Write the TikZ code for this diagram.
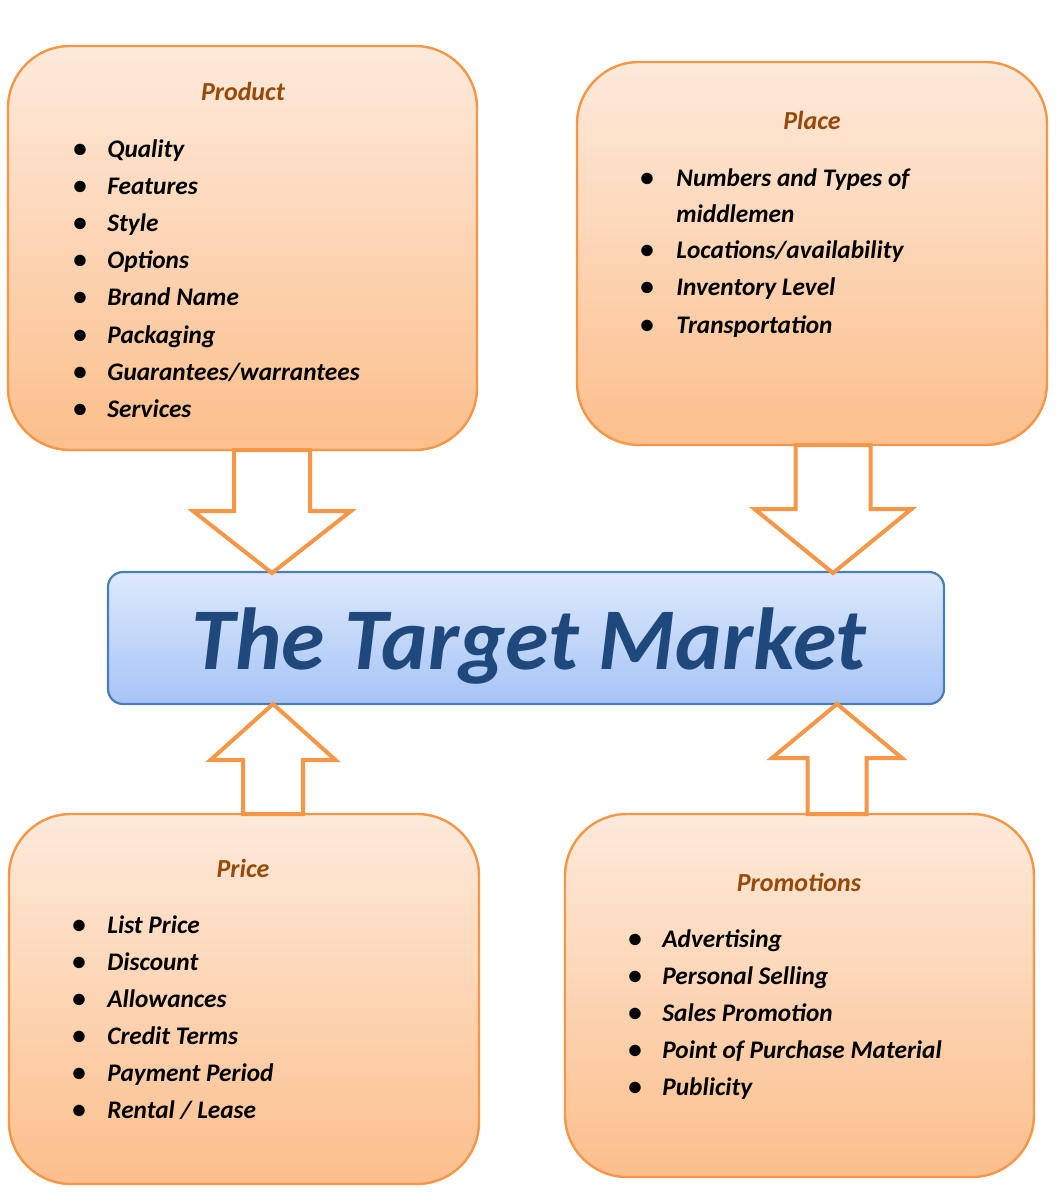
\documentclass[tikz,border=0pt]{standalone}
\usepackage{fontspec}
\setmainfont{Carlito}
\definecolor{orng}{HTML}{F79646}
\definecolor{boxtop}{HTML}{FDEADB}
\definecolor{boxbot}{HTML}{FCBF8C}
\definecolor{ttl}{HTML}{984807}
\definecolor{bltop}{HTML}{DDE9FC}
\definecolor{blbot}{HTML}{A6C4F7}
\definecolor{blline}{HTML}{4A7EBB}
\definecolor{tmtext}{HTML}{1F497D}
\tikzset{
  mixbox/.style={draw=orng, line width=1.2pt, rounded corners=31pt, top color=boxtop, bottom color=boxbot, inner sep=0pt},
  tmbox/.style={draw=blline, line width=1.1pt, rounded corners=7.5pt, top color=bltop, bottom color=blbot, inner sep=0pt},
  blk/.style={draw=orng, fill=white, line width=2pt, line join=miter},
  ttlfont/.style={font=\fontsize{13}{15}\selectfont\bfseries\itshape, text=ttl, anchor=base, inner sep=0pt},
  item/.style={font=\fontsize{12.65}{15}\selectfont\bfseries\itshape, text=black, anchor=base west, inner sep=0pt},
  bul/.style={font=\fontsize{13.5}{15}\selectfont\bfseries, text=black, anchor=base, inner sep=0pt}
}
\begin{document}
\begin{tikzpicture}[x=0.5pt,y=-0.5pt]
\useasboundingbox (0,0) rectangle (1057,1200);

% boxes
\node[mixbox, minimum width=234.5pt, minimum height=202pt] (product) at (242.5,248) {};
\node[mixbox, minimum width=235pt, minimum height=191.5pt] (place) at (812,253.5) {};
\node[mixbox, minimum width=235pt, minimum height=185pt] (price) at (244,999) {};
\node[mixbox, minimum width=234.5pt, minimum height=181.5pt] (promo) at (799.5,995.5) {};
\node[tmbox, minimum width=418pt, minimum height=66pt] (tm) at (526,638) {};
\node[font=\fontsize{44}{50}\selectfont\bfseries\itshape, text=tmtext, anchor=base, inner sep=0pt] (tmtext) at (529,669) {The Target Market};

% titles
\node[ttlfont] (productT) at (243,100) {Product};
\node[ttlfont] (placeT) at (812,129) {Place};
\node[ttlfont] (priceT) at (243,877) {Price};
\node[ttlfont] (promoT) at (799,891) {Promotions};

% product items
\foreach \t [count=\i] in {Quality,Features,Style,Options,Brand Name,Packaging,Guarantees/warrantees,Services}{
  \node[bul] (prodB\i) at (80,{157+37.2*(\i-1)}) {•};
  \node[item] (prodI\i) at (107,{157+37.2*(\i-1)}) {\t};
}

% place items
\node[bul] (placeB1) at (647,186) {•};
\node[item] (placeI1) at (676,186) {Numbers and Types of};
\node[item] (placeI1b) at (676,222) {middlemen};
\node[bul] (placeB2) at (647,258) {•};
\node[item] (placeI2) at (676,258) {Locations/availability};
\node[bul] (placeB3) at (647,295) {•};
\node[item] (placeI3) at (676,295) {Inventory Level};
\node[bul] (placeB4) at (647,333) {•};
\node[item] (placeI4) at (676,333) {Transportation};

% price items
\foreach \t [count=\i] in {List Price,Discount,Allowances,Credit Terms,Payment Period,Rental / Lease}{
  \node[bul] (priceB\i) at (79,{933+37*(\i-1)}) {•};
  \node[item] (priceI\i) at (107,{933+37*(\i-1)}) {\t};
}

% promotion items
\foreach \t [count=\i] in {Advertising,Personal Selling,Sales Promotion,Point of Purchase Material,Publicity}{
  \node[bul] (promoB\i) at (635,{947+37*(\i-1)}) {•};
  \node[item] (promoI\i) at (662,{947+37*(\i-1)}) {\t};
}

% block arrows
\coordinate (a1) at (272,573);
\coordinate (a2) at (833,573);
\coordinate (a3) at (273,704);
\coordinate (a4) at (837,704);
\draw[blk] (a1) -- ++(-79,-62) -- ++(41,0) -- ++(0,-61) -- ++(76,0) -- ++(0,61) -- ++(41,0) -- cycle;
\draw[blk] (a2) -- ++(-78.5,-64) -- ++(41,0) -- ++(0,-64) -- ++(75,0) -- ++(0,64) -- ++(41,0) -- cycle;
\draw[blk] (a3) -- ++(-62.5,56) -- ++(32.5,0) -- ++(0,54) -- ++(60,0) -- ++(0,-54) -- ++(32.5,0) -- cycle;
\draw[blk] (a4) -- ++(-65,54) -- ++(35.5,0) -- ++(0,56) -- ++(59,0) -- ++(0,-56) -- ++(35.5,0) -- cycle;
\end{tikzpicture}
\end{document}
